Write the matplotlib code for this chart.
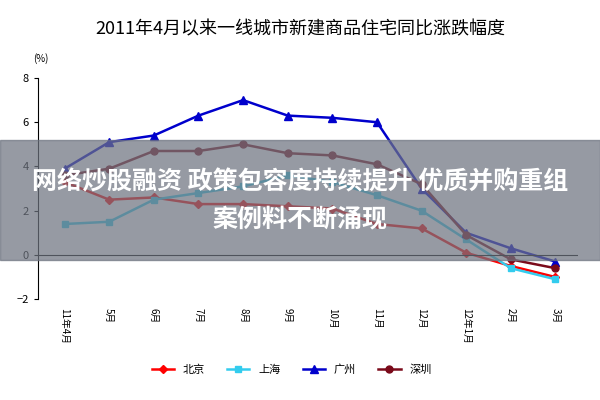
import matplotlib
matplotlib.use("Agg")
import matplotlib.pyplot as plt
from matplotlib.patches import Rectangle

plt.rcParams['font.family'] = ['Noto Sans CJK SC', 'DejaVu Sans']

months = ["11年4月","5月","6月","7月","8月","9月","10月","11月","12月","12年1月","2月","3月"]
beijing = [3.3, 2.5, 2.6, 2.3, 2.3, 2.2, 2.1, 1.4, 1.2, 0.1, -0.5, -1.0]
shanghai = [1.4, 1.5, 2.5, 2.8, 3.1, 3.6, 3.3, 2.7, 2.0, 0.7, -0.6, -1.1]
guangzhou = [3.9, 5.1, 5.4, 6.3, 7.0, 6.3, 6.2, 6.0, 3.0, 1.0, 0.3, -0.3]
shenzhen = [3.6, 3.9, 4.7, 4.7, 5.0, 4.6, 4.5, 4.1, 3.2, 0.9, -0.2, -0.6]

fig = plt.figure(figsize=(6, 4), dpi=100)
ax = fig.add_axes([0.063, 0.252, 0.9, 0.553])
x = list(range(len(months)))
ax.plot(x, beijing, color="#ff0000", marker="D", ms=4, lw=1.8, label="北京")
ax.plot(x, shanghai, color="#33ccee", marker="s", ms=5, lw=1.8, label="上海")
ax.plot(x, guangzhou, color="#0000cc", marker="^", ms=6, lw=1.8, label="广州")
ax.plot(x, shenzhen, color="#7a0a1a", marker="o", ms=5, lw=1.8, label="深圳")
ax.set_ylim(-2, 8)
ax.set_xlim(-0.6, 11.5)
ax.set_yticks([-2, 0, 2, 4, 6, 8])
ax.tick_params(axis='y', labelsize=8, length=3)
ax.set_xticks(x)
ax.set_xticklabels(months, fontsize=7)
ax.tick_params(axis='x', length=0, labelrotation=270, pad=6)
for s in ['top', 'right', 'bottom']:
    ax.spines[s].set_visible(False)
ax.axhline(0, color='black', lw=0.8)
fig.text(0.055, 0.845, "(%)", fontsize=7)
fig.text(0.5, 0.915, "2011年4月以来一线城市新建商品住宅同比涨跌幅度", ha='center', fontsize=13)
ax.legend(loc='center', bbox_to_anchor=(0.47, -0.32), ncol=4, frameon=False, fontsize=8)
fig.patches.append(Rectangle((0, 0.35), 1, 0.3, transform=fig.transFigure, color="#6e7480", alpha=0.72, zorder=5))
fig.text(0.5, 0.545, "网络炒股融资 政策包容度持续提升 优质并购重组", ha='center', va='center', fontsize=18, color='white', weight='bold', zorder=6)
fig.text(0.5, 0.452, "案例料不断涌现", ha='center', va='center', fontsize=18, color='white', weight='bold', zorder=6)
fig.savefig("out.png", dpi=100)
